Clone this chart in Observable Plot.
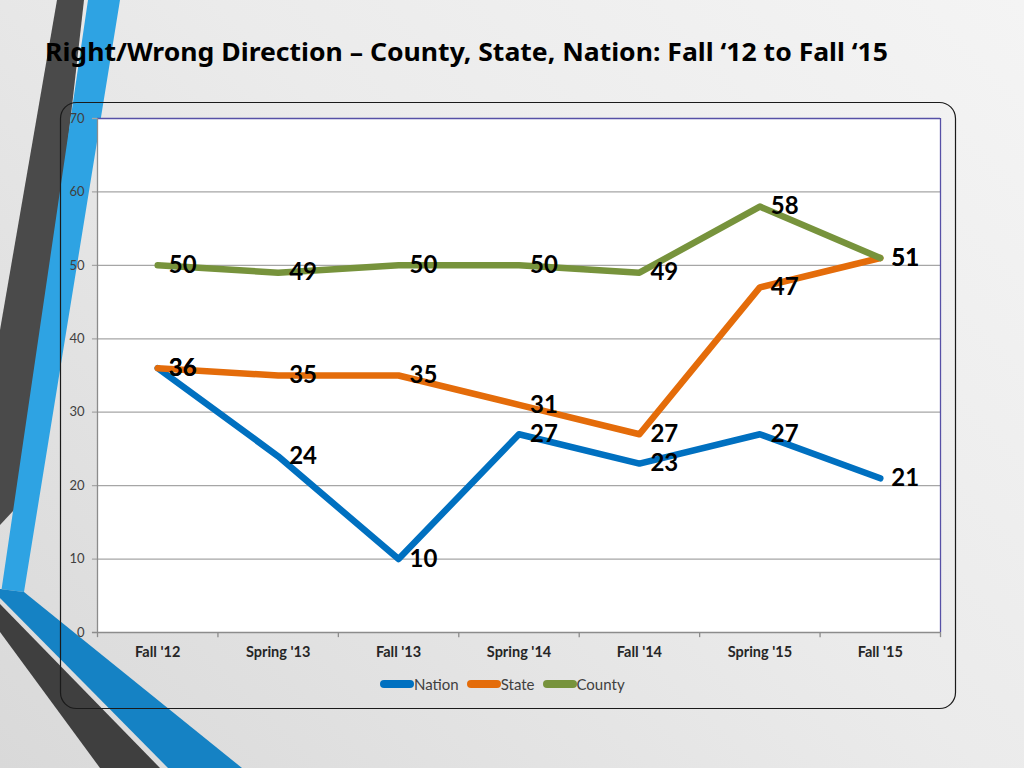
<!DOCTYPE html>
<html>
<head>
<meta charset="utf-8">
<script src="https://cdn.jsdelivr.net/npm/d3@7"></script>
<script src="https://cdn.jsdelivr.net/npm/@observablehq/plot@0.6"></script>
<style>
  html, body { margin: 0; padding: 0; }
  body { width: 1024px; height: 768px; overflow: hidden; position: relative;
         background: linear-gradient(225deg, #f4f4f4 0%, #ebebeb 45%, #d9d9d9 100%); font-family: Lato, "Open Sans", sans-serif; }
  #deco { position: absolute; left: 0; top: 0; }
  #chart { position: absolute; left: 0; top: 0; }
  #legend { position: absolute; left: 380px; top: 675px; display: flex; align-items: center; font-family: Lato, sans-serif; font-size: 15px; color: #404040; }
  #legend .item { display: flex; align-items: center; margin-right: 8px; }
</style>
</head>
<body>
<svg id="deco" width="1024" height="768">
  <polygon points="57,0 84,0 28,495 0,525 0,330" fill="#4a4a4a"/>
  <polygon points="88,0 120,0 24,592 0,589 0,600" fill="#2ea3e3"/>
  <polygon points="0,589 24,592 242,768 168,768 0,598" fill="#1582c4"/>
  <polygon points="0,604 160,768 100,768 0,632" fill="#3f3f3f"/>
  <rect x="60.5" y="102.5" width="895" height="606" rx="16" ry="16" fill="none" stroke="#1a1a1a" stroke-width="1.2"/>
  <text id="title" x="45" y="61" font-family="'Noto Sans', 'DejaVu Sans', sans-serif" font-weight="bold" font-size="25" fill="#000" textLength="843" lengthAdjust="spacingAndGlyphs">Right/Wrong Direction – County, State, Nation: Fall ‘12 to Fall ‘15</text>
</svg>
<div id="chart"></div>
<div id="legend"></div>
<script>
const categories = ["Fall '12", "Spring '13", "Fall '13", "Spring '14", "Fall '14", "Spring '15", "Fall '15"];
const nation = [36, 24, 10, 27, 23, 27, 21];
const state  = [36, 35, 35, 31, 27, 47, 51];
const county = [50, 49, 50, 50, 49, 58, 51];
const seriesNames  = ["Nation", "State", "County"];
const seriesColors = ["#0070c0", "#e46c0a", "#77933c"];
const yTicks = [0, 10, 20, 30, 40, 50, 60, 70];

const seriesValues = [nation, state, county];
const rows = [];
seriesNames.forEach((s, k) => seriesValues[k].forEach((v, i) => rows.push({series: s, i, value: v})));

const xDomain = [-0.5, categories.length - 0.5];
const bounds = d3.range(categories.length + 1).map(i => i - 0.5);
const tickLen = 0.042;

const chart = Plot.plot({
  width: 1024,
  height: 700,
  marginLeft: 97,
  marginRight: 84,
  marginTop: 118,
  marginBottom: 68,
  style: {background: "transparent", fontFamily: "Lato, 'Open Sans', sans-serif", overflow: "visible"},
  x: {type: "linear", domain: xDomain, axis: null},
  y: {type: "linear", domain: [yTicks[0], yTicks[yTicks.length - 1]], axis: null},
  color: {domain: seriesNames, range: seriesColors},
  marks: [
    Plot.frame({fill: "white", stroke: "none"}),
    Plot.ruleY(yTicks.slice(1, -1), {x1: xDomain[0] - tickLen, x2: xDomain[1], stroke: "#a6a6a6", strokeWidth: 1.3}),
    Plot.ruleY([yTicks[yTicks.length - 1]], {x1: xDomain[0] - tickLen, x2: xDomain[0], stroke: "#a6a6a6", strokeWidth: 1.3}),
    Plot.ruleY([yTicks[yTicks.length - 1]], {x1: xDomain[0], x2: xDomain[1], stroke: "#5650a6", strokeWidth: 1.3}),
    Plot.ruleX([xDomain[1]], {y1: yTicks[0], y2: yTicks[yTicks.length - 1], stroke: "#5650a6", strokeWidth: 1.3}),
    Plot.ruleX([xDomain[0]], {y1: yTicks[0], y2: yTicks[yTicks.length - 1], stroke: "#8c8c8c", strokeWidth: 1.3}),
    Plot.ruleY([yTicks[0]], {x1: xDomain[0] - tickLen, x2: xDomain[1], stroke: "#8c8c8c", strokeWidth: 1.5}),
    Plot.ruleX(bounds, {y1: 0, y2: -0.7, stroke: "#8c8c8c", strokeWidth: 1.3}),
    Plot.text(yTicks, {x: xDomain[0], y: d => d, dx: -13, textAnchor: "end", fontSize: 13, fill: "#404040"}),
    Plot.text(categories, {x: (d, i) => i, y: yTicks[0], dy: 20, fontSize: 14.5, fontWeight: "bold", fill: "#262626"}),
    Plot.line(rows, {x: "i", y: "value", z: "series", stroke: "series", strokeWidth: 6.5, strokeLinecap: "round", strokeLinejoin: "round"}),
    Plot.text(rows, {x: "i", y: "value", text: d => String(d.value), dx: 11, textAnchor: "start", fontSize: 24, fontWeight: "bold", fill: "#000"})
  ]
});
document.getElementById("chart").appendChild(chart);

const legend = document.getElementById("legend");
seriesNames.forEach((s, k) => {
  const item = document.createElement("div");
  item.className = "item";
  item.innerHTML = `<svg width="34" height="12"><line x1="4" y1="6" x2="30" y2="6" stroke="${seriesColors[k]}" stroke-width="8" stroke-linecap="round"/></svg><span>${s}</span>`;
  legend.appendChild(item);
});
</script>
</body>
</html>
